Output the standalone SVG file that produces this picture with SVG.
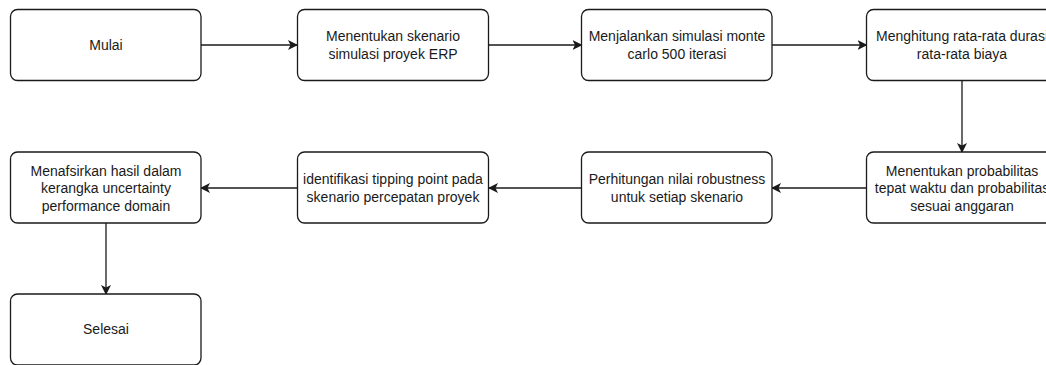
<svg xmlns="http://www.w3.org/2000/svg" width="1046" height="365" viewBox="0 0 1046 365">
<defs>
<style>
.box{fill:#ffffff;stroke:#1a1a1a;stroke-width:1.3}
.lbl{font-family:"Liberation Sans",Arial,sans-serif;font-size:14px;fill:#1a1a1a;text-anchor:middle}
.edge{fill:none;stroke:#1a1a1a;stroke-width:1.3}
</style>
<marker id="arr" viewBox="0 0 10 10" refX="9" refY="5" markerWidth="10" markerHeight="10" markerUnits="userSpaceOnUse" orient="auto">
<path d="M0,0 L10,5 L0,10 L2.5,5 Z" fill="#1a1a1a"/>
</marker>
</defs>
<rect width="1046" height="365" fill="#ffffff"/>
<g id="connectors">
<line class="edge" x1="201" y1="45" x2="297" y2="45" marker-end="url(#arr)"/>
<line class="edge" x1="489" y1="45" x2="581.5" y2="45" marker-end="url(#arr)"/>
<line class="edge" x1="772" y1="45" x2="866.5" y2="45" marker-end="url(#arr)"/>
<line class="edge" x1="962" y1="80.5" x2="962" y2="152" marker-end="url(#arr)"/>
<line class="edge" x1="866.5" y1="188" x2="772" y2="188" marker-end="url(#arr)"/>
<line class="edge" x1="581.5" y1="188" x2="489" y2="188" marker-end="url(#arr)"/>
<line class="edge" x1="297.5" y1="188" x2="201" y2="188" marker-end="url(#arr)"/>
<line class="edge" x1="106" y1="223" x2="106" y2="294" marker-end="url(#arr)"/>
</g>
<g id="n1"><rect class="box" x="10.5" y="9.5" width="190.5" height="71" rx="7"/><text class="lbl" x="106" y="50">Mulai</text></g>
<g id="n2"><rect class="box" x="297.5" y="9.5" width="191" height="71" rx="7"/><text class="lbl" x="393" y="40.7">Menentukan skenario</text><text class="lbl" x="393" y="59.3">simulasi proyek ERP</text></g>
<g id="n3"><rect class="box" x="581.5" y="9.5" width="190.5" height="71" rx="7"/><text class="lbl" x="677" y="40.7">Menjalankan simulasi monte</text><text class="lbl" x="677" y="59.3">carlo 500 iterasi</text></g>
<g id="n4"><rect class="box" x="866.5" y="9.5" width="190.5" height="71" rx="7"/><text class="lbl" x="962" y="40.7">Menghitung rata-rata durasi</text><text class="lbl" x="962" y="59.3">rata-rata biaya</text></g>
<g id="n5"><rect class="box" x="866.5" y="152" width="190.5" height="71" rx="7"/><text class="lbl" x="962" y="175.5">Menentukan probabilitas</text><text class="lbl" x="962" y="193">tepat waktu dan probabilitas</text><text class="lbl" x="962" y="210.5">sesuai anggaran</text></g>
<g id="n6"><rect class="box" x="581.5" y="152" width="190.5" height="71" rx="7"/><text class="lbl" x="677" y="183.5">Perhitungan nilai robustness</text><text class="lbl" x="677" y="202">untuk setiap skenario</text></g>
<g id="n7"><rect class="box" x="297.5" y="152" width="191" height="71" rx="7"/><text class="lbl" x="393" y="183.5">identifikasi tipping point pada</text><text class="lbl" x="393" y="202">skenario percepatan proyek</text></g>
<g id="n8"><rect class="box" x="10.5" y="152" width="190.5" height="71" rx="7"/><text class="lbl" x="106" y="175.5">Menafsirkan hasil dalam</text><text class="lbl" x="106" y="193">kerangka uncertainty</text><text class="lbl" x="106" y="210.5">performance domain</text></g>
<g id="n9"><rect class="box" x="10.5" y="294" width="190.5" height="71" rx="7"/><text class="lbl" x="106" y="334">Selesai</text></g>
</svg>
